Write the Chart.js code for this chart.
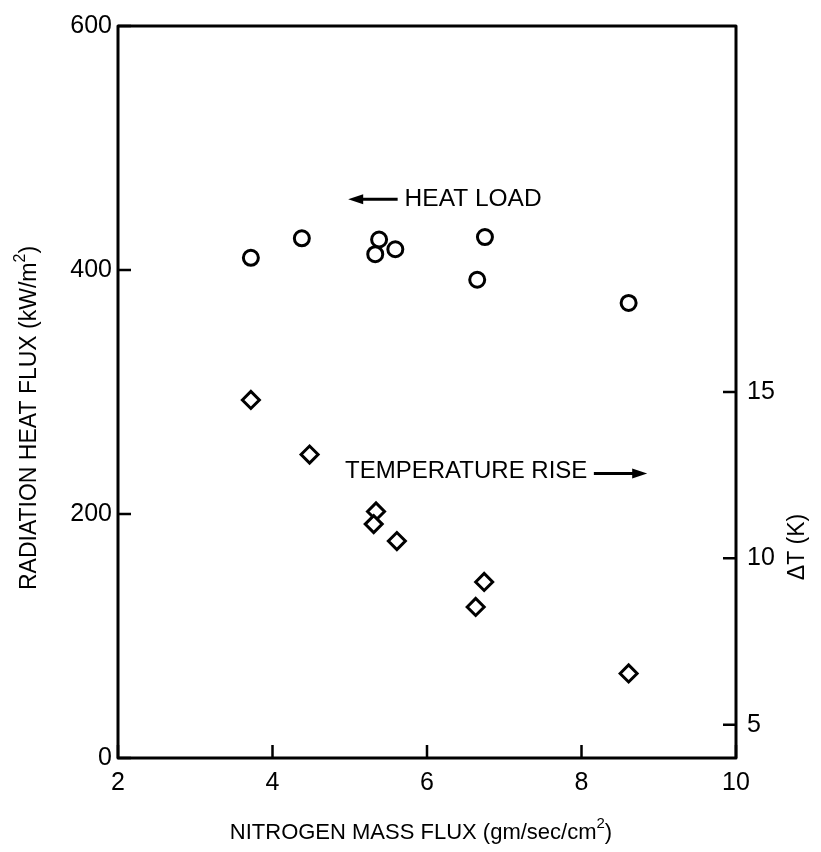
<!DOCTYPE html>
<html>
<head>
<meta charset="utf-8">
<title>Radiation heat flux vs nitrogen mass flux</title>
<script src="https://cdn.jsdelivr.net/npm/chart.js@4/dist/chart.umd.min.js"></script>
<style>
  body { margin: 0; background: #fff; }
  canvas { display: block; }
</style>
</head>
<body>
<canvas id="chart" width="821" height="852"></canvas>
<script>
// nitrogen mass flux (gm/sec/cm2) for each run
const heatFluxX = [3.72, 4.38, 5.38, 5.33, 5.59, 6.75, 6.65, 8.61];
// radiation heat flux, kW/m2 (left axis)
const heatLoad = [410, 426, 425, 413, 417, 427, 392, 373];

const riseX = [3.72, 4.48, 5.34, 5.31, 5.61, 6.74, 6.63, 8.61];
// temperature rise, K (right axis)
const tempRise = [14.76, 13.12, 11.41, 11.03, 10.52, 9.29, 8.54, 6.54];

const fluxTicks = [2, 4, 6, 8, 10];
const heatTicks = [0, 200, 400, 600];
const riseTicks = [5, 10, 15];

const FONT = "'Liberation Sans', Arial, Helvetica, sans-serif";

const toPoints = (xs, ys) => xs.map((x, i) => ({ x: x, y: ys[i] }));
const setTicks = (list) => (scale) => { scale.ticks = list.map(v => ({ value: v })); };

// text with a raised "2", e.g. kW/m2
const drawTitle = (ctx, parts, x, y, angle, size) => {
  ctx.save();
  ctx.translate(x, y);
  ctx.rotate(angle);
  ctx.fillStyle = '#000';
  ctx.textBaseline = 'middle';
  ctx.textAlign = 'left';
  const fontOf = (p) => (p.sup ? Math.round(size * 0.7) : size) + 'px ' + FONT;
  let total = 0;
  parts.forEach(p => { ctx.font = fontOf(p); total += ctx.measureText(p.text).width; });
  let cx = -total / 2;
  parts.forEach(p => {
    ctx.font = fontOf(p);
    ctx.fillText(p.text, cx, p.sup ? -size * 0.4 : 0);
    cx += ctx.measureText(p.text).width;
  });
  ctx.restore();
};

const arrow = (ctx, x1, x2, y) => {
  // head sits at x2
  const dir = x2 > x1 ? 1 : -1;
  ctx.beginPath();
  ctx.moveTo(x1, y);
  ctx.lineTo(x2 - dir * 10, y);
  ctx.stroke();
  ctx.beginPath();
  ctx.moveTo(x2, y);
  ctx.lineTo(x2 - dir * 15, y - 5);
  ctx.lineTo(x2 - dir * 15, y + 5);
  ctx.closePath();
  ctx.fill();
};

const framePlugin = {
  id: 'framePlugin',
  afterDraw(chart) {
    const { ctx, chartArea: a, scales } = chart;
    ctx.save();
    ctx.strokeStyle = '#000';
    ctx.fillStyle = '#000';
    ctx.lineJoin = 'round';
    ctx.lineWidth = 3;
    ctx.strokeRect(a.left, a.top, a.right - a.left, a.bottom - a.top);

    // tick marks point into the plot
    const len = 13;
    ctx.lineWidth = 2.5;
    ctx.beginPath();
    scales.x.ticks.forEach(t => {
      const px = scales.x.getPixelForValue(t.value);
      ctx.moveTo(px, a.bottom);
      ctx.lineTo(px, a.bottom - len);
    });
    scales.y.ticks.forEach(t => {
      const py = scales.y.getPixelForValue(t.value);
      ctx.moveTo(a.left, py);
      ctx.lineTo(a.left + len, py);
    });
    scales.y1.ticks.forEach(t => {
      const py = scales.y1.getPixelForValue(t.value);
      ctx.moveTo(a.right, py);
      ctx.lineTo(a.right - len, py);
    });
    ctx.stroke();

    // series notes
    ctx.textBaseline = 'middle';
    ctx.textAlign = 'left';
    ctx.lineWidth = 3;
    ctx.font = '24.5px ' + FONT;
    const hy = scales.y.getPixelForValue(458);
    arrow(ctx, scales.x.getPixelForValue(5.62), scales.x.getPixelForValue(4.98), hy);
    ctx.fillText('HEAT LOAD', scales.x.getPixelForValue(5.71), hy);

    ctx.font = '24px ' + FONT;
    const ty = scales.y1.getPixelForValue(12.61);
    ctx.fillText('TEMPERATURE RISE', scales.x.getPixelForValue(4.94), ty);
    arrow(ctx, scales.x.getPixelForValue(8.16), scales.x.getPixelForValue(8.85), ty + 2);

    // axis titles
    drawTitle(ctx, [{ text: 'NITROGEN MASS FLUX (gm/sec/cm' }, { text: '2', sup: true }, { text: ')' }], 421, 833, 0, 22);
    drawTitle(ctx, [{ text: 'RADIATION HEAT FLUX (kW/m' }, { text: '2', sup: true }, { text: ')' }], 30, 418, -Math.PI / 2, 23);
    drawTitle(ctx, [{ text: 'ΔT (K)' }], 798, 547, -Math.PI / 2, 23);
    ctx.restore();
  }
};

const tickFont = { family: FONT, size: 25 };

new Chart('chart', {
  type: 'scatter',
  data: {
    datasets: [{
      label: 'Heat load',
      data: toPoints(heatFluxX, heatLoad),
      yAxisID: 'y',
      pointStyle: 'circle',
      pointRadius: 7.5,
      pointBorderWidth: 3,
      borderColor: '#000',
      backgroundColor: '#fff'
    }, {
      label: 'Temperature rise',
      data: toPoints(riseX, tempRise),
      yAxisID: 'y1',
      pointStyle: 'rectRot',
      pointRadius: 8.5,
      pointBorderWidth: 3,
      borderColor: '#000',
      backgroundColor: '#fff'
    }]
  },
  options: {
    responsive: false,
    devicePixelRatio: 1,
    animation: false,
    layout: { padding: { top: 22, left: 0, right: 0, bottom: 0 } },
    plugins: { legend: { display: false }, tooltip: { enabled: false } },
    scales: {
      x: {
        type: 'linear',
        min: 2,
        max: 10,
        afterBuildTicks: setTicks(fluxTicks),
        afterFit: (s) => { s.height = 94; },
        grid: { display: false, drawTicks: false },
        border: { display: false },
        ticks: { color: '#000', font: tickFont, padding: 10, maxRotation: 0 }
      },
      y: {
        position: 'left',
        min: 0,
        max: 600,
        afterBuildTicks: setTicks(heatTicks),
        afterFit: (s) => { s.width = 118; },
        grid: { display: false, drawTicks: false },
        border: { display: false },
        ticks: { color: '#000', font: tickFont, padding: 6 }
      },
      y1: {
        position: 'right',
        min: 4,
        max: 26,
        afterBuildTicks: setTicks(riseTicks),
        afterFit: (s) => { s.width = 85; },
        grid: { display: false, drawTicks: false },
        border: { display: false },
        ticks: { color: '#000', font: tickFont, padding: 11 }
      }
    }
  },
  plugins: [framePlugin]
});
</script>
</body>
</html>
